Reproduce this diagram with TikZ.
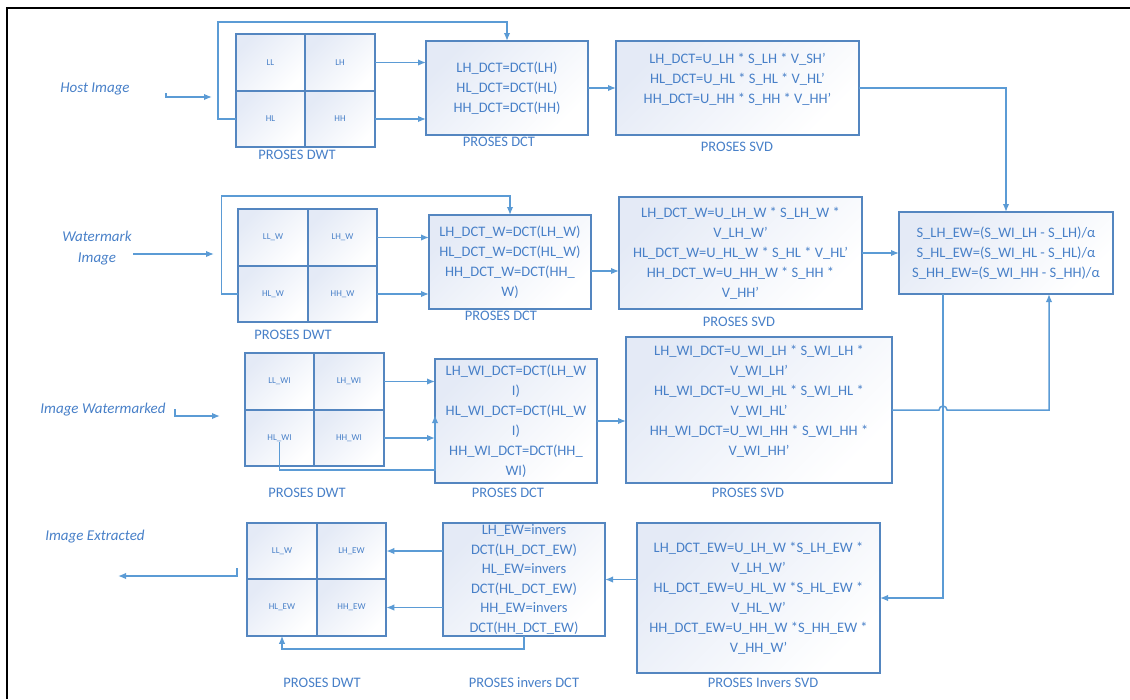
\documentclass[tikz,border=0pt]{standalone}
\usepackage{fontspec}
\setmainfont{Carlito}
\usepackage{tikz}
\usetikzlibrary{positioning,calc,arrows.meta}
\definecolor{lineblue}{RGB}{91,155,213}
\definecolor{edgeblue}{RGB}{84,134,192}
\definecolor{txtblue}{RGB}{72,128,200}
\definecolor{shadeblue}{RGB}{228,234,246}
\tikzset{CELL/.style={rectangle,draw=edgeblue,line width=1.6pt,minimum width=69.5pt,minimum height=56.5pt,outer sep=0pt,inner sep=0pt,left color=shadeblue,right color=white,shading angle=45,text=txtblue,font=\fontsize{9}{10}\selectfont}}
\tikzset{PROC/.style={rectangle,draw=edgeblue,line width=1.6pt,outer sep=0pt,inner xsep=2pt,inner ysep=0pt,align=center,left color=shadeblue,right color=white,shading angle=45,text=txtblue,font=\fontsize{14.5}{20}\selectfont}}
\tikzset{TITLE/.style={text=txtblue,font=\fontsize{14.5}{18}\selectfont}}
\tikzset{SOURCE/.style={text=txtblue,align=center,font=\fontsize{15}{21}\selectfont\itshape}}
\tikzset{ARROW/.style={line width=1.5pt,draw=lineblue,-{Latex[length=8pt,width=6.5pt]}}}
\tikzset{FRAME/.style={line width=1.8pt,black}}

\begin{document}
\begin{tikzpicture}[x=1pt,y=-1pt]
\useasboundingbox (0,0) rectangle (1130,699);

\coordinate (c_fr_0) at (7,699);
\coordinate (c_fr_1) at (7,8);
\coordinate (c_fr_2) at (1130,8);
\draw[FRAME] (c_fr_0) -- (c_fr_1) -- (c_fr_2);

% host image
\node[SOURCE] (n_host) at (95,89) {Host Image};
\node[CELL] (n_ll) at (270.5,62.5) {LL};
\node[CELL, right=0pt of n_ll] (n_lh) {LH};
\node[CELL, below=0pt of n_ll] (n_hl) {HL};
\node[CELL, right=0pt of n_hl] (n_hh) {HH};
\node[PROC, minimum width=162pt, minimum height=94pt] (n_dct) at (507,88) {LH\_DCT=DCT(LH)\\HL\_DCT=DCT(HL)\\HH\_DCT=DCT(HH)};
\node[PROC, minimum width=243pt, minimum height=94pt] (n_svd) at (737.5,88) {LH\_DCT=U\_LH * S\_LH * V\_SH’\\HL\_DCT=U\_HL * S\_HL * V\_HL’\\HH\_DCT=U\_HH * S\_HH * V\_HH’\\\mbox{}};
\node[TITLE] (n_dwt_t1) at (297,155) {PROSES DWT};
\node[TITLE] (n_dct_t1) at (499,142) {PROSES DCT};
\node[TITLE] (n_svd_t1) at (737,147) {PROSES SVD};

% watermark image
\node[SOURCE] (n_wm) at (97,248) {Watermark\\Image};
\node[CELL] (n_ll_w) at (273,237.5) {LL\_W};
\node[CELL, right=0pt of n_ll_w] (n_lh_w) {LH\_W};
\node[CELL, below=0pt of n_ll_w] (n_hl_w) {HL\_W};
\node[CELL, right=0pt of n_hl_w] (n_hh_w) {HH\_W};
\node[PROC, minimum width=162pt, minimum height=94pt] (n_dct_w) at (510,262) {LH\_DCT\_W=DCT(LH\_W)\\HL\_DCT\_W=DCT(HL\_W)\\HH\_DCT\_W=DCT(HH\_\\W)};
\node[PROC, minimum width=243pt, minimum height=112pt] (n_svd_w) at (740.5,253) {LH\_DCT\_W=U\_LH\_W * S\_LH\_W *\\V\_LH\_W’\\HL\_DCT\_W=U\_HL\_W * S\_HL * V\_HL’\\HH\_DCT\_W=U\_HH\_W * S\_HH *\\V\_HH’};
\node[TITLE] (n_dwt_t2) at (293,335) {PROSES DWT};
\node[TITLE] (n_dct_t2) at (501,316) {PROSES DCT};
\node[TITLE] (n_svd_t2) at (739,322) {PROSES SVD};

\node[PROC, minimum width=214pt, minimum height=82pt] (n_ew) at (1006,253) {S\_LH\_EW=(S\_WI\_LH - S\_LH)/α\\S\_HL\_EW=(S\_WI\_HL - S\_HL)/α\\S\_HH\_EW=(S\_WI\_HH - S\_HH)/α};

% watermarked image
\node[SOURCE] (n_wmi) at (103,410) {Image Watermarked};
\node[CELL] (n_ll_wi) at (279.5,381.5) {LL\_WI};
\node[CELL, right=0pt of n_ll_wi] (n_lh_wi) {LH\_WI};
\node[CELL, below=0pt of n_ll_wi] (n_hl_wi) {HL\_WI};
\node[CELL, right=0pt of n_hl_wi] (n_hh_wi) {HH\_WI};
\node[PROC, minimum width=162pt, minimum height=124pt] (n_dct_wi) at (516,421) {LH\_WI\_DCT=DCT(LH\_W\\I)\\HL\_WI\_DCT=DCT(HL\_W\\I)\\HH\_WI\_DCT=DCT(HH\_\\WI)};
\node[PROC, minimum width=266pt, minimum height=146pt] (n_svd_wi) at (759,410) {LH\_WI\_DCT=U\_WI\_LH * S\_WI\_LH *\\V\_WI\_LH’\\HL\_WI\_DCT=U\_WI\_HL * S\_WI\_HL *\\V\_WI\_HL’\\HH\_WI\_DCT=U\_WI\_HH * S\_WI\_HH *\\V\_WI\_HH’\\\mbox{}};
\node[TITLE] (n_dwt_t3) at (307,493) {PROSES DWT};
\node[TITLE] (n_dct_t3) at (508,493) {PROSES DCT};
\node[TITLE] (n_svd_t3) at (748,493) {PROSES SVD};

% extraction
\node[SOURCE] (n_ext) at (95,537) {Image Extracted};
\node[CELL] (n_ll_e) at (282,551) {LL\_W};
\node[CELL, right=0pt of n_ll_e] (n_lh_e) {LH\_EW};
\node[CELL, below=0pt of n_ll_e] (n_hl_e) {HL\_EW};
\node[CELL, right=0pt of n_hl_e] (n_hh_e) {HH\_EW};
\node[PROC, minimum width=162pt, minimum height=113pt, font=\fontsize{14.5}{19.5}\selectfont] (n_dct_e) at (524,579.5) {LH\_EW=invers\\DCT(LH\_DCT\_EW)\\HL\_EW=invers\\DCT(HL\_DCT\_EW)\\HH\_EW=invers\\DCT(HH\_DCT\_EW)};
\node[PROC, minimum width=243pt, minimum height=150pt] (n_isvd) at (758.5,598) {LH\_DCT\_EW=U\_LH\_W *S\_LH\_EW *\\V\_LH\_W’\\HL\_DCT\_EW=U\_HL\_W *S\_HL\_EW *\\V\_HL\_W’\\HH\_DCT\_EW=U\_HH\_W *S\_HH\_EW *\\V\_HH\_W’};
\node[TITLE] (n_dwt_t4) at (322,683) {PROSES DWT};
\node[TITLE] (n_dct_t4) at (524,683) {PROSES invers DCT};
\node[TITLE] (n_svd_t4) at (763,683) {PROSES Invers SVD};

% row 1
\coordinate (c_host_0) at (166,93);
\coordinate (c_host_1) at (212,97);
\draw[ARROW] (c_host_0) |- (c_host_1);
\draw[ARROW] (n_hl.west) -- ++(-18,0) |- ($(n_dct.north)+(0,-19)$) -- (n_dct.north);
\draw[ARROW] (n_lh.east) -- (n_lh.east -| n_dct.west);
\draw[ARROW] (n_hh.east) -- (n_hh.east -| n_dct.west);
\draw[ARROW] (n_dct.east) -- (n_svd.west);
\draw[ARROW] (n_svd.east) -| (n_ew.north);

% row 2
\coordinate (c_wm_0) at (133,254);
\coordinate (c_wm_1) at (214,254);
\draw[ARROW] (c_wm_0) -- (c_wm_1);
\draw[ARROW] (n_hl_w.west) -- ++(-17,0) |- ($(n_dct_w.north)+(0,-19)$) -- (n_dct_w.north);
\draw[ARROW] (n_lh_w.east) -- (n_lh_w.east -| n_dct_w.west);
\draw[ARROW] (n_hh_w.east) -- (n_hh_w.east -| n_dct_w.west);
\draw[ARROW] ($(n_dct_w.east)+(0,9)$) -- ($(n_svd_w.west)+(0,18)$);
\draw[ARROW] (n_svd_w.east) -- (n_ew.west);

% row 3
\coordinate (c_wmi_0) at (175,409);
\coordinate (c_wmi_1) at (220,416);
\draw[ARROW] (c_wmi_0) |- (c_wmi_1);
\draw[ARROW] (n_lh_wi.east) -- (n_lh_wi.east -| n_dct_wi.west);
\draw[ARROW] (n_hh_wi.east) -- (n_hh_wi.east -| n_dct_wi.west);
\draw[ARROW] ($(n_hl_wi.center)+(0,4)$) |- ($(n_dct_wi.south west)+(0,-13)$) -- ($(n_dct_wi.west)+(0,-6)$);
\draw[ARROW] (n_dct_wi.east) -- (n_dct_wi.east -| n_svd_wi.west);
\draw[ARROW] (n_svd_wi.east) -- ($(n_svd_wi.east -| n_ew.south)+(-67,0)$) arc[start angle=180,end angle=0,radius=4pt] -| ($(n_ew.south)+(43,0)$);
\draw[ARROW] ($(n_ew.south)+(-63,0)$) |- (n_isvd.east);

% row 4
\draw[ARROW] (n_isvd.west |- n_dct_e.east) -- (n_dct_e.east);
\draw[ARROW] (n_dct_e.west |- n_lh_e.east) -- (n_lh_e.east);
\draw[ARROW] (n_dct_e.west |- n_hh_e.east) -- (n_hh_e.east);
\draw[ARROW] (n_dct_e.south) -- ++(0,13) -| (n_hl_e.south);
\coordinate (c_ext_0) at (237,568);
\coordinate (c_ext_1) at (118,576);
\draw[ARROW] (c_ext_0) |- (c_ext_1);

\end{tikzpicture}
\end{document}
